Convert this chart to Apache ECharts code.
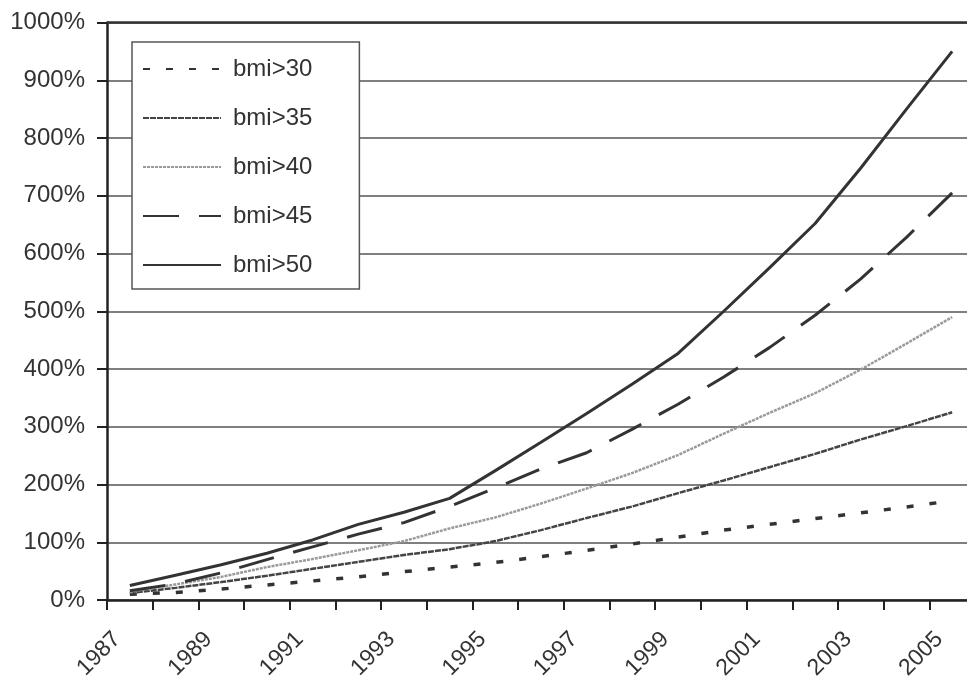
<!DOCTYPE html>
<html>
<head>
<meta charset="utf-8">
<script src="https://cdn.jsdelivr.net/npm/echarts@6/dist/echarts.min.js"></script>
<style>
html,body{margin:0;padding:0;background:#fff;}
#chart{width:967px;height:679px;}
</style>
</head>
<body>
<div id="chart"></div>
<script>
var years = ['1987','1988','1989','1990','1991','1992','1993','1994','1995','1996','1997','1998','1999','2000','2001','2002','2003','2004','2005'];
var bmi30 = [10,13,19,26,33,40,49,57,65,75,86,97,109,121,131,141,151,161,172];
var bmi35 = [12,21,31,42,54,66,78,88,102,121,142,162,185,207,230,253,278,301,325];
var bmi40 = [14,27,40,57,71,86,102,124,143,167,193,220,251,288,324,358,399,444,490];
var bmi45 = [16,28,47,70,92,114,134,162,194,227,255,296,339,386,437,493,556,628,705];
var bmi50 = [25,43,61,81,104,131,152,176,224,273,323,374,427,500,575,652,748,850,950];
var seriesNames = ['bmi>30','bmi>35','bmi>40','bmi>45','bmi>50'];
var yTicks = {min:0, max:1000, interval:100};

var FONT = "'Liberation Sans', Arial, sans-serif";
var chart = echarts.init(document.getElementById('chart'), null, {renderer:'canvas'});

function mk(name, data, style) {
  return {
    name: name, type: 'line', data: data, symbol: 'none', smooth: false,
    lineStyle: style, itemStyle: {color: style.color}, silent: true, z: 3
  };
}

var series = [
  mk(seriesNames[0], bmi30, {color:'#333', width:3.5, type:[7,16]}),
  mk(seriesNames[1], bmi35, {color:'#444', width:2.5, type:[6,1]}),
  mk(seriesNames[2], bmi40, {color:'#9a9a9a', width:2.5, type:[3,1]}),
  mk(seriesNames[3], bmi45, {color:'#333', width:3, type:[36,20]}),
  mk(seriesNames[4], bmi50, {color:'#333', width:3, type:'solid'})
];
series[4].markLine = {
  silent: true, symbol: 'none', label: {show:false},
  lineStyle: {color:'#333', width:2.5, type:'solid'},
  data: [{yAxis: yTicks.max}]
};

chart.setOption({
  animation: false,
  backgroundColor: '#fff',
  grid: {left:107, right:-8, top:22.5, bottom:79, containLabel:false, outerBoundsMode:'none'},
  legend: {
    orient: 'vertical', left: 132, top: 42,
    data: seriesNames,
    itemWidth: 78, itemHeight: 20, itemGap: 21,
    padding: [13, 47, 10, 10],
    backgroundColor: '#fff',
    borderColor: '#555', borderWidth: 1.5,
    itemStyle: {opacity: 0},
    textStyle: {fontFamily: FONT, fontSize: 24, color: '#333', lineHeight: 28, padding:[0,0,0,7]},
    selectedMode: false,
    z: 10
  },
  xAxis: {
    type: 'category', data: years, boundaryGap: true,
    axisLine: {show:true, lineStyle:{color:'#222', width:2.5}},
    axisTick: {show:true, interval:0, length:10, alignWithLabel:false, lineStyle:{color:'#222', width:2}},
    axisLabel: {interval:1, rotate:45, margin:23, padding:[0,18,0,0], fontFamily:FONT, fontSize:23, color:'#333', hideOverlap:false},
    splitLine: {show:false}
  },
  yAxis: {
    type: 'value', min: yTicks.min, max: yTicks.max, interval: yTicks.interval,
    axisLine: {show:true, lineStyle:{color:'#222', width:2.5}},
    axisTick: {show:true, length:10, lineStyle:{color:'#222', width:2}},
    axisLabel: {margin:22, formatter:function(v){return v + '%';}, fontFamily:FONT, fontSize:24, color:'#333'},
    splitLine: {show:true, lineStyle:{color:'#555', width:1.6}}
  },
  series: series
});
</script>
</body>
</html>
